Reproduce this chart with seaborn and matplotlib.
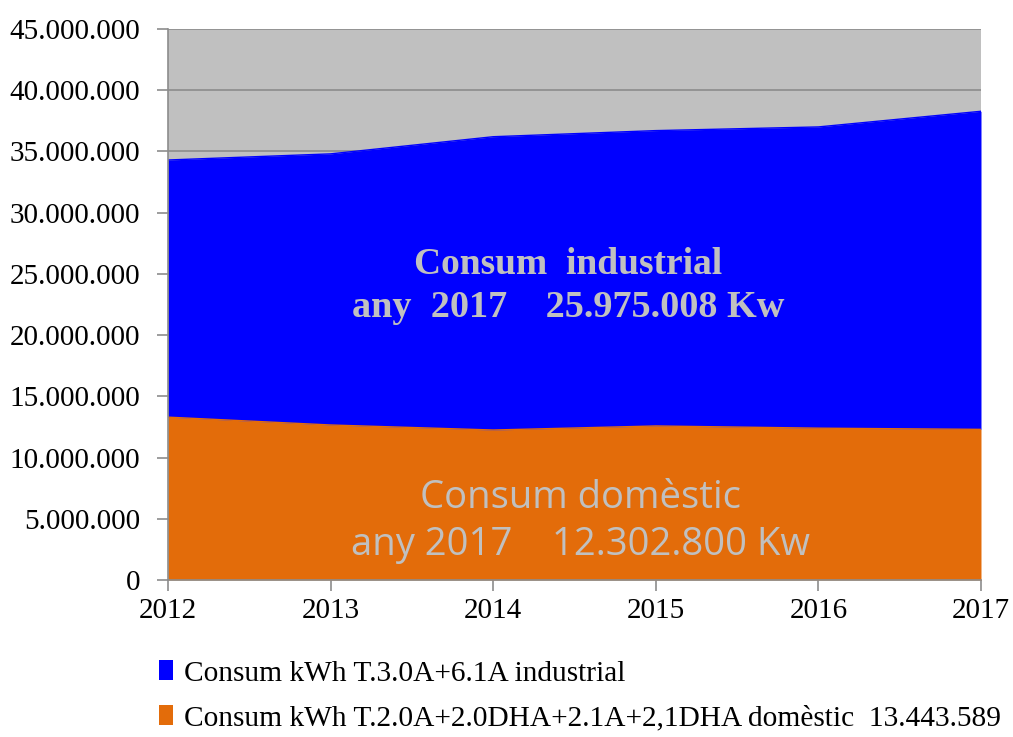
import pandas as pd
import matplotlib
matplotlib.use("Agg")
import matplotlib.pyplot as plt
import matplotlib.ticker as mticker
from matplotlib.patches import Patch
import seaborn as sns

# Values (kWh)
years = [2012, 2013, 2014, 2015, 2016, 2017]
domestic = [13300000, 12660000, 12250000, 12580000, 12400000, 12302800]
industrial = [21000000, 22140000, 23950000, 24120000, 24600000, 25975008]

label_ind = "Consum kWh T.3.0A+6.1A industrial"
label_dom = "Consum kWh T.2.0A+2.0DHA+2.1A+2,1DHA domèstic  13.443.589"

df = pd.DataFrame({"Year": years, "Domestic": domestic, "Industrial": industrial})
df["Total"] = df["Domestic"] + df["Industrial"]

sns.set_style("white")
plt.rcParams["font.family"] = ["Liberation Serif", "DejaVu Serif"]

fig = plt.figure(figsize=(10.13, 7.37), dpi=100)
ax = fig.add_axes([0.1658, 0.2130, 0.8026, 0.7477])
ax.set_facecolor("#c0c0c0")

blue = "#0000ff"
orange = "#e36c0a"

# gridlines behind the areas
for v in range(5000000, 45000001, 5000000):
    ax.axhline(v, color="#8c8c8c", lw=1.2, zorder=0.5)

ax.fill_between(df["Year"], 0, df["Domestic"], color=orange, lw=0, zorder=1)
ax.fill_between(df["Year"], df["Domestic"], df["Total"], color=blue, lw=0, zorder=1)
sns.lineplot(data=df, x="Year", y="Total", color=blue, lw=1, ax=ax, zorder=2)
sns.lineplot(data=df, x="Year", y="Domestic", color=orange, lw=1, ax=ax, zorder=2)

ax.set_xlim(2012, 2017)
ax.set_ylim(0, 45000000)
ax.set_xticks(years)
ax.set_yticks(range(0, 45000001, 5000000))
ax.yaxis.set_major_formatter(mticker.FuncFormatter(lambda v, p: f"{int(v):,}".replace(",", ".")))
ax.set_xlabel("")
ax.set_ylabel("")
ax.tick_params(axis="both", labelsize=21, labelcolor="#000000", length=8, width=1.2,
               direction="out", left=True, bottom=True, color="#8c8c8c")
ax.tick_params(axis="y", pad=12)
ax.tick_params(axis="x", pad=5)

for s in ["top", "right"]:
    ax.spines[s].set_visible(False)
for s in ["left", "bottom"]:
    ax.spines[s].set_color("#8c8c8c")
    ax.spines[s].set_linewidth(1.2)
    ax.spines[s].set_zorder(3)

# annotations inside the areas
ax.text(2014.46, 25750000, "Consum  industrial", ha="center", va="center",
        fontsize=27, fontweight="bold", color="#c0c0c0", zorder=4)
ax.text(2014.46, 22250000, "any  2017    25.975.008 Kw", ha="center", va="center",
        fontsize=27.5, fontweight="bold", color="#c0c0c0", zorder=4)
ax.text(2014.54, 6700000, "Consum domèstic", ha="center", va="center",
        fontsize=27.5, color="#c0c0c0", family=["Open Sans", "DejaVu Sans"], zorder=4)
ax.text(2014.54, 2900000, "any 2017    12.302.800 Kw", ha="center", va="center",
        fontsize=27.5, color="#c0c0c0", family=["Open Sans", "DejaVu Sans"], zorder=4)

handles = [Patch(facecolor=blue, edgecolor="none", label=label_ind),
           Patch(facecolor=orange, edgecolor="none", label=label_dom)]
fig.legend(handles=handles, loc="upper left", bbox_to_anchor=(0.145, 0.12),
           frameon=False, fontsize=21.2, handlelength=0.5, handleheight=0.65,
           handletextpad=0.35, labelspacing=0.64, borderaxespad=0,
           labelcolor="#000000")

fig.savefig("out.png", dpi=100, facecolor="white")
